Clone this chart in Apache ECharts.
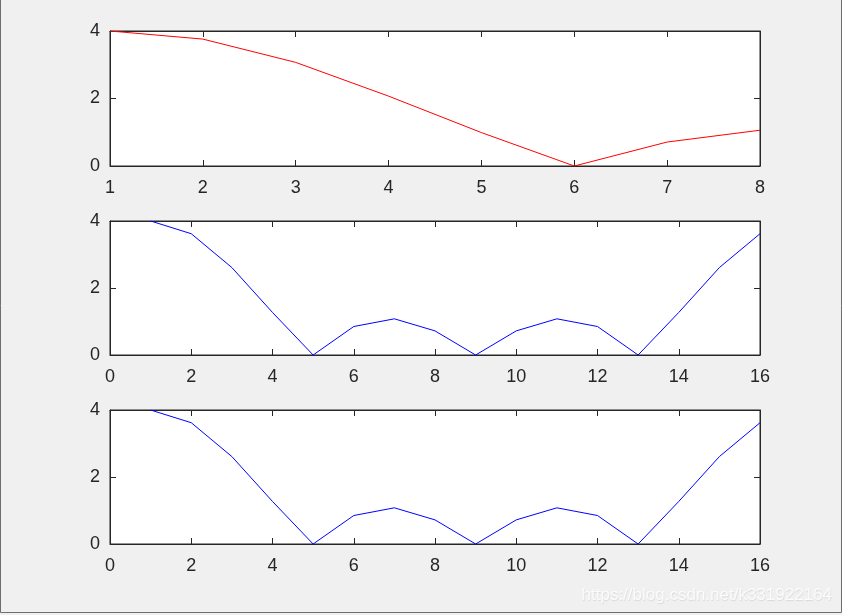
<!DOCTYPE html>
<html>
<head>
<meta charset="utf-8">
<script src="https://cdn.jsdelivr.net/npm/echarts@6/dist/echarts.min.js"></script>
<style>
html,body{margin:0;padding:0;background:#f0f0f0;}
#c{width:842px;height:615px;}
</style>
</head>
<body>
<div id="c"></div>
<script>
// Data
var xTop = [1, 2, 3, 4, 5, 6, 7, 8];
var yTop = [4, 3.76, 3.07, 2.07, 0.99, 0, 0.71, 1.06];
var xMid = [1, 2, 3, 4, 5, 6, 7, 8, 9, 10, 11, 12, 13, 14, 15, 16];
var yMid = [4, 3.62, 2.61, 1.27, 0, 0.85, 1.08, 0.72, 0, 0.72, 1.08, 0.85, 0, 1.27, 2.61, 3.62];
var xBot = [1, 2, 3, 4, 5, 6, 7, 8, 9, 10, 11, 12, 13, 14, 15, 16];
var yBot = [4, 3.62, 2.61, 1.27, 0, 0.85, 1.08, 0.72, 0, 0.72, 1.08, 0.85, 0, 1.27, 2.61, 3.62];
var watermark = 'https://blog.csdn.net/k331922164';

function pairs(xs, ys){ return xs.map(function(x,i){ return [x, ys[i]]; }); }

var chart = echarts.init(document.getElementById('c'), null, {renderer:'canvas'});
var font = 'Liberation Sans, Arial, Helvetica, sans-serif';
var txt = '#262626';
var grids = [
  {left:110, top:31, width:650, height:135},
  {left:110, top:221, width:650, height:134},
  {left:110, top:410, width:650, height:134}
];
var xRanges = [[1,8,1],[0,16,2],[0,16,2]];
var xAxes = [], yAxes = [];
grids.forEach(function(g, i){
  g.show = true; g.backgroundColor = '#ffffff'; g.borderColor = txt; g.borderWidth = 1;
  var r = xRanges[i];
  xAxes.push({type:'value', gridIndex:i, position:'bottom', min:r[0], max:r[1], interval:r[2],
    axisLine:{show:true, onZero:false, lineStyle:{color:txt, width:1}},
    axisTick:{show:true, inside:true, length:6, lineStyle:{color:txt}},
    axisLabel:{show:true, color:txt, fontSize:18, fontFamily:font, margin:13},
    splitLine:{show:false}});
  xAxes.push({type:'value', gridIndex:i, position:'top', min:r[0], max:r[1], interval:r[2],
    axisLine:{show:true, onZero:false, lineStyle:{color:txt, width:1}},
    axisTick:{show:true, inside:true, length:6, lineStyle:{color:txt}},
    axisLabel:{show:false}, splitLine:{show:false}});
  yAxes.push({type:'value', gridIndex:i, position:'left', min:0, max:4, interval:2,
    axisLine:{show:true, onZero:false, lineStyle:{color:txt, width:1}},
    axisTick:{show:true, inside:true, length:6, lineStyle:{color:txt}},
    axisLabel:{show:true, color:txt, fontSize:18, fontFamily:font, margin:10},
    splitLine:{show:false}});
  yAxes.push({type:'value', gridIndex:i, position:'right', min:0, max:4, interval:2,
    axisLine:{show:true, onZero:false, lineStyle:{color:txt, width:1}},
    axisTick:{show:true, inside:true, length:6, lineStyle:{color:txt}},
    axisLabel:{show:false}, splitLine:{show:false}});
});

var seriesData = [pairs(xTop,yTop), pairs(xMid,yMid), pairs(xBot,yBot)];
var colors = ['#ff0000', '#0000ff', '#0000ff'];
var series = seriesData.map(function(d, i){
  return {type:'line', xAxisIndex:i*2, yAxisIndex:i*2, data:d, showSymbol:false, symbol:'none',
    lineStyle:{color:colors[i], width:1}, animation:false, silent:true, clip:true, z:5};
});

chart.setOption({
  backgroundColor:'#f0f0f0',
  animation:false,
  grid:grids, xAxis:xAxes, yAxis:yAxes, series:series,
  graphic:[
    {type:'rect', shape:{x:0.5, y:-2, width:841, height:614.5}, style:{fill:null, stroke:'#6e6e6e', lineWidth:1}, silent:true},
    {type:'text', right:10, top:587, style:{text:watermark, fill:'rgba(255,255,255,0.85)', font:'17px ' + font,
      textShadowColor:'rgba(0,0,0,0.12)', textShadowBlur:1, textShadowOffsetX:0.5, textShadowOffsetY:0.5}, silent:true}
  ]
});
</script>
</body>
</html>
